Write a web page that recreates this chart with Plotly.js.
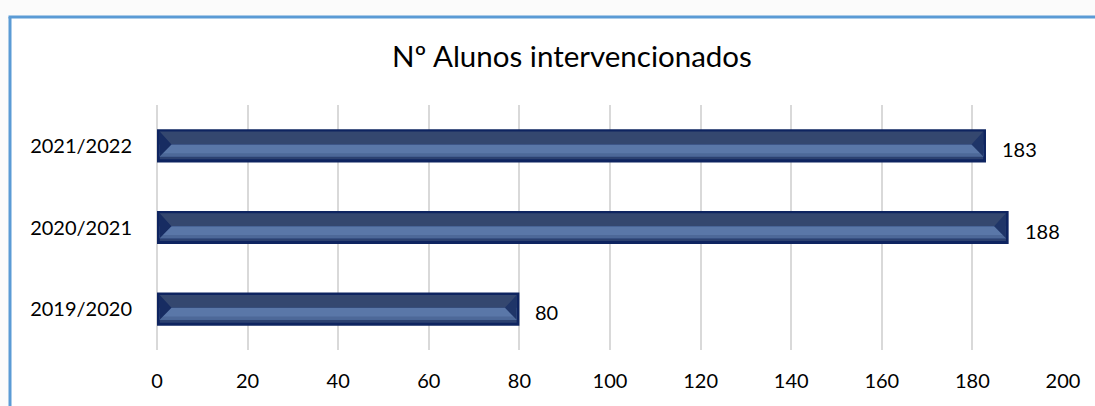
<!DOCTYPE html>
<html>
<head>
<meta charset="utf-8">
<script src="https://cdn.plot.ly/plotly-3.0.1.min.js"></script>
<style>
html,body{margin:0;padding:0;background:#fbfbfb;width:1095px;height:406px;overflow:hidden;}
#chart{position:absolute;left:0;top:0;width:1095px;height:406px;}
</style>
</head>
<body>
<div id="chart"></div>
<script>
const categories = ["2019/2020", "2020/2021", "2021/2022"];
const values = [80, 188, 183];
const xTicks = [0, 20, 40, 60, 80, 100, 120, 140, 160, 180, 200];
const chartTitle = "Nº Alunos intervencionados";

const FONT = "Lato, 'Open Sans', sans-serif";
const inset = 0.6;
const pos = categories.map((c, i) => i);

function layer(off, wid, color, ins) {
  return {
    type: "bar", orientation: "h",
    y: pos, x: values.map(v => v - 2 * ins), base: ins,
    width: wid, offset: off,
    marker: {color: color, line: {width: 0}},
    hoverinfo: "none"
  };
}

// bevel facets at both ends of each bar (derived from the values)
const TOP = 0.174, MID = 0.016, BOT = -0.131, BEV = 2.6;
function bevel(side, color) {
  const xs = [], ys = [];
  values.forEach((v, i) => {
    if (side === "left") {
      xs.push(inset, inset + BEV, inset, inset, null);
    } else {
      const e = v - inset;
      xs.push(e, e - BEV, e, e, null);
    }
    ys.push(i + TOP, i + MID, i + BOT, i + TOP, null);
  });
  return {type: "scatter", mode: "lines", x: xs, y: ys, fill: "toself",
          fillcolor: color, line: {width: 0, color: color}, hoverinfo: "none"};
}

const traces = [
  layer(-0.203, 0.406, "#0e2460", 0),        // dark edge
  layer(-0.165, 0.034, "#2c4170", inset),     // lower dark band
  layer(MID, TOP - MID, "#34476f", inset),    // upper face
  layer(BOT, MID - BOT, "#5a77a8", inset),    // light face
  layer(BOT, 0.04, "#4d6898", inset),         // light face shading
  bevel("left", "#172c62"),
  bevel("right", "#1f3568")
];

const annotations = categories.map((c, i) => ({
  x: values[i], y: i, xref: "x", yref: "y",
  text: String(values[i]), showarrow: false,
  xanchor: "left", xshift: 14, yshift: -3,
  font: {family: FONT, size: 20, color: "#000"}
}));

// frame (pixel-based positions converted to paper units of the plot area)
const L = 157, R = 1063, T = 105, B = 350;
const px = v => (v - L) / (R - L);
const py = v => (B - v) / (B - T);
const shapes = [
  {type: "rect", xref: "paper", yref: "paper", layer: "below",
   x0: px(10), x1: px(1120), y0: py(430), y1: py(17),
   fillcolor: "#ffffff", line: {width: 0}},
  {type: "line", xref: "paper", yref: "paper", x0: px(10), x1: px(10), y0: py(430), y1: py(17),
   line: {color: "#5b9bd5", width: 3}},
  {type: "line", xref: "paper", yref: "paper", x0: px(8.5), x1: px(1120), y0: py(17), y1: py(17),
   line: {color: "#5b9bd5", width: 3}}
];

const layout = {
  width: 1095, height: 406,
  margin: {l: L, r: 1095 - R, t: T, b: 406 - B},
  paper_bgcolor: "#fbfbfb",
  plot_bgcolor: "rgba(0,0,0,0)",
  barmode: "overlay",
  showlegend: false,
  title: {text: chartTitle, x: 0.458, xref: "paper", y: 0.86, yref: "container",
          xanchor: "center", yanchor: "middle", font: {family: FONT, size: 29.5, color: "#000"}},
  xaxis: {
    range: [0, 200], tickvals: xTicks, ticktext: xTicks.map(String),
    showgrid: true, gridcolor: "#d9d9d9", gridwidth: 2,
    zeroline: true, zerolinecolor: "#d9d9d9", zerolinewidth: 2,
    showline: false,
    ticks: "outside", ticklen: 13, tickcolor: "rgba(0,0,0,0)",
    tickfont: {family: FONT, size: 20, color: "#000"}
  },
  yaxis: {
    range: [-0.5, 2.5], tickvals: pos, ticktext: categories,
    showgrid: false, zeroline: false, showline: false,
    ticks: "outside", ticklen: 20, tickcolor: "rgba(0,0,0,0)",
    tickfont: {family: FONT, size: 20, color: "#000"}
  },
  shapes: shapes,
  annotations: annotations
};

Plotly.newPlot("chart", traces, layout, {displayModeBar: false, staticPlot: true});
</script>
</body>
</html>
